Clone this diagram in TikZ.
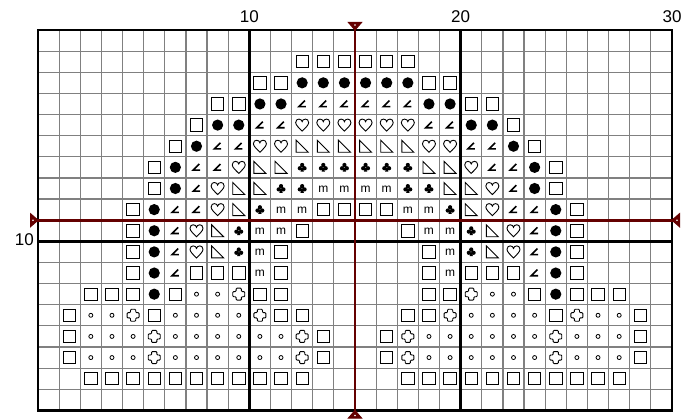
\documentclass[tikz,border=0pt]{standalone}
\usepackage{fontspec}
\setmainfont{Liberation Sans}
\definecolor{maroonc}{RGB}{100,0,0}
\definecolor{gridgray}{RGB}{128,128,128}
\tikzset{
  thingrid/.style={draw=gridgray, line width=1.2pt},
  thickgrid/.style={draw=black, line width=2.4pt},
  centreline/.style={draw=maroonc, line width=2.8pt},
  endmark/.style={draw=maroonc, fill=maroonc, line width=1pt, line join=miter},
  symline/.style={draw=black, line width=0.9pt},
  lab/.style={font=\fontsize{17}{20}\selectfont, inner sep=0pt},
  msym/.style={font=\fontsize{12}{14}\selectfont, inner sep=0pt}
}
\newcount\colcnt
\def\chartrow#1#2{\def\currow{#1}\colcnt=0 \parsecells#2\relax}
\def\parsecells#1{\ifx#1\relax\else\edef\curcol{\the\colcnt}\ifx#1.\else\cellsym{#1}\fi\advance\colcnt by 1 \expandafter\parsecells\fi}
\newcommand\cellsym[1]{%
  \pgfmathsetmacro\symx{38+21.133*(\curcol+0.5)}%
  \pgfmathsetmacro\symy{30+21.133*(\currow+0.5)}%
  \begin{scope}[shift={(\symx,\symy)}]\csname csym#1\endcsname\end{scope}}
% symbols (y axis points down)
\def\csymS{\draw[symline] (-6.2,-6.2) rectangle (6.2,6.2);}
\def\csymD{\fill[black] (0,0) circle (5.6);}
\def\csymA{\draw[draw=black, line width=1.6pt, line join=miter] (2.8,-3.4) -- (-3.3,2.7) -- (3.6,2.7);}
\def\csymH{\draw[symline] (0,6) .. controls (-3,3) and (-6.5,0) .. (-6.5,-2.5)
  .. controls (-6.5,-5) and (-4.8,-6) .. (-3.3,-6)
  .. controls (-1.6,-6) and (0,-4.8) .. (0,-3.4)
  .. controls (0,-4.8) and (1.6,-6) .. (3.3,-6)
  .. controls (4.8,-6) and (6.5,-5) .. (6.5,-2.5)
  .. controls (6.5,0) and (3,3) .. cycle;}
\def\csymT{\draw[symline, line join=miter] (-6,-6) -- (-6,6) -- (6,6) -- cycle;}
\def\csymC{\fill[black] (0,-2.4) circle (2.1) (-2.4,0.9) circle (2.1) (2.4,0.9) circle (2.1)
  (0,0) -- (-1.7,4.3) -- (1.7,4.3) -- cycle;}
\def\csymM{\node[msym] (m\currow-\curcol) at (0,0.3) {m};}
\def\csymo{\draw[draw=black, line width=0.8pt] (0,0) circle (2);}
\def\csymX{\draw[symline, rounded corners=0.9pt] (-2.6,-6) -- (2.6,-6) -- (2.6,-2.6) -- (6,-2.6) -- (6,2.6) -- (2.6,2.6) -- (2.6,6) -- (-2.6,6) -- (-2.6,2.6) -- (-6,2.6) -- (-6,-2.6) -- (-2.6,-2.6) -- cycle;}
\begin{document}
\begin{tikzpicture}[x=1pt, y=-1pt]
\useasboundingbox (0,0) rectangle (684,419);
\fill[white] (0,0) rectangle (684,419);
% thin grid
\foreach \i in {1,...,29} {\draw[thingrid] (38+\i*21.133,30) -- (38+\i*21.133,410.4);}
\foreach \j in {1,...,17} {\draw[thingrid] (38,30+\j*21.133) -- (672,30+\j*21.133);}
% chart symbols
\chartrow{0}{..............................}
\chartrow{1}{............SSSSSS............}
\chartrow{2}{..........SSDDDDDDSS..........}
\chartrow{3}{........SSDDAAAAAADDSS........}
\chartrow{4}{.......SDDAAHHHHHHAADDS.......}
\chartrow{5}{......SDAAHHTTTTTTHHAADS......}
\chartrow{6}{.....SDAAHTTCCCCCCTTHAADS.....}
\chartrow{7}{.....SDAHTTCCMMMMCCTTHADS.....}
\chartrow{8}{....SDAAHTCMMSSSSMMCTHAADS....}
\chartrow{9}{....SDAHTCMMS....SMMCTHADS....}
\chartrow{10}{....SDAHTCMS......SMCTHADS....}
\chartrow{11}{....SDASSSMS......SMSSSADS....}
\chartrow{12}{..SSSDSooXSS......SSXooSDSSS..}
\chartrow{13}{.SooXSooooXSS....SSXooooSXooS.}
\chartrow{14}{.SoooXooooooXS..SXooooooXoooS.}
\chartrow{15}{.SoooXooooooXS..SXooooooXoooS.}
\chartrow{16}{..SSSSSSSSSSS....SSSSSSSSSSS..}
\chartrow{17}{..............................}
% thick lines and border
\draw[thickgrid] (249.33,30) -- (249.33,410.4);
\draw[thickgrid] (460.67,30) -- (460.67,410.4);
\draw[thickgrid] (38,241.33) -- (672,241.33);
\draw[thickgrid] (38,30) rectangle (672,410.4);
% centre lines
\draw[centreline] (355,23) -- (355,418);
\draw[centreline] (31,220.2) -- (679,220.2);
\draw[endmark] (348.5,22.5) -- (361.5,22.5) -- (355,30) -- cycle;
\draw[endmark] (348.5,418) -- (361.5,418) -- (355,410.5) -- cycle;
\draw[endmark] (30.5,213.7) -- (30.5,226.7) -- (38,220.2) -- cycle;
\draw[endmark] (679.5,213.7) -- (679.5,226.7) -- (672,220.2) -- cycle;
\fill[white] (355,25) circle (0.9) (355,415.5) circle (0.9) (33,220.2) circle (0.9) (677,220.2) circle (0.9);
% labels
\node[lab] (t10) at (249.33,17) {10};
\node[lab] (t20) at (460.67,17) {20};
\node[lab] (t30) at (672,17) {30};
\node[lab, anchor=east] (l10) at (34,240) {10};
\end{tikzpicture}
\end{document}
